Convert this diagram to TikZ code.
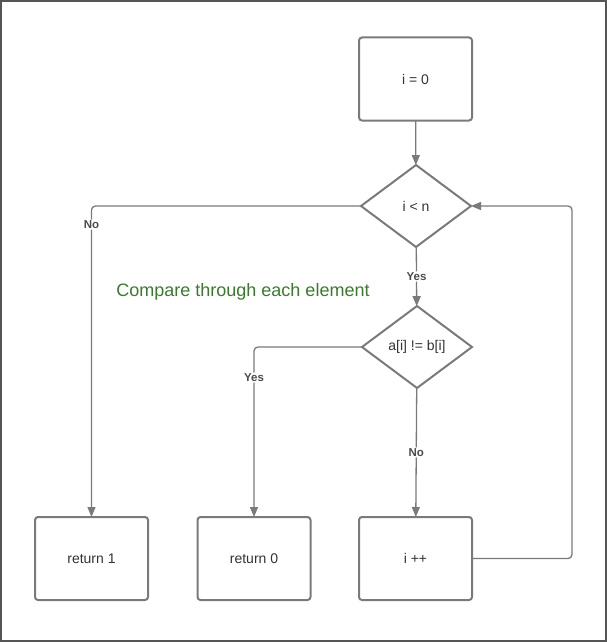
\documentclass[tikz,border=0pt]{standalone}
\usepackage{fontspec}
\setmainfont{Liberation Sans}
\usetikzlibrary{shapes.geometric,arrows.meta}

\definecolor{linegray}{HTML}{7A7A7A}
\definecolor{framegray}{HTML}{555555}
\definecolor{notegreen}{HTML}{3B7A2E}

\tikzset{
  stepbox/.style={draw=linegray, line width=2pt, rounded corners=3pt,
    minimum width=113pt, minimum height=83pt, inner sep=0pt, outer sep=0pt,
    text=black!80, font=\fontsize{14}{16}\selectfont},
  testbox/.style={diamond, draw=linegray, line width=2pt,
    minimum width=110pt, minimum height=82pt, inner sep=0pt, outer sep=0pt,
    text=black!80, font=\fontsize{14}{16}\selectfont},
  flow/.style={draw=linegray, line width=1.3pt, rounded corners=4pt,
    -{Triangle[length=10pt,width=8pt]}},
  answer/.style={fill=white, inner sep=1pt, text=black!70,
    font=\bfseries\fontsize{11.5}{13}\selectfont},
}

\begin{document}
\begin{tikzpicture}[x=1pt, y=-1pt]
  \useasboundingbox (0,0) rectangle (607,642);
  % frame
  \draw[framegray, line width=2pt] (1,1) rectangle (605.5,640.5);

  % steps and tests
  \node[stepbox] (init) at (415.5,79) {i = 0};
  \node[testbox] (cond) at (416,206) {i < n};
  \node[testbox] (cmp)  at (417,347) {a[i] != b[i]};
  \node[stepbox] (ret1) at (91.5,558.5) {return 1};
  \node[stepbox] (ret0) at (254,558.5) {return 0};
  \node[stepbox] (incr) at (415.5,558.5) {i ++};

  % note
  \node[text=notegreen, font=\fontsize{18}{20}\selectfont] (note) at (243,292)
    {Compare through each element};

  % connectors
  \draw[flow] (init) -- (cond);
  \draw[flow] (cond) -- node[answer] {Yes} (cmp);
  \draw[flow] (cond.west) -| node[answer, pos=0.53] {No} (ret1);
  \draw[flow] (cmp.west) -| node[answer, pos=0.59] {Yes} (ret0);
  \draw[flow] (cmp) -- node[answer] {No} (incr);
  \draw[flow] (incr.east) -- ++(100,0) |- (cond.east);
\end{tikzpicture}
\end{document}
